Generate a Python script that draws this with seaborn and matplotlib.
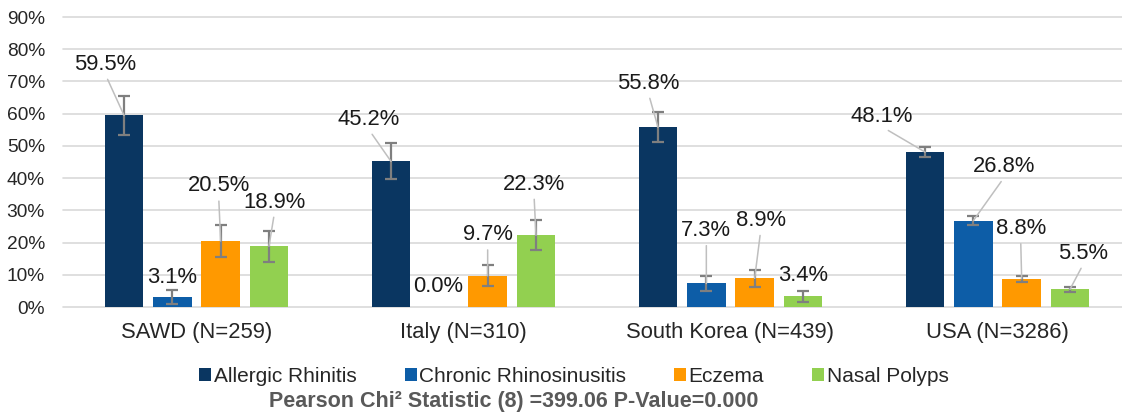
import matplotlib
matplotlib.use("Agg")
import matplotlib.pyplot as plt
import matplotlib.patches as mpatches
from matplotlib.container import BarContainer
from matplotlib.ticker import PercentFormatter, MultipleLocator
import pandas as pd
import seaborn as sns

# ---- data -------------------------------------------------------------
countries = ["SAWD (N=259)", "Italy (N=310)", "South Korea (N=439)", "USA (N=3286)"]
conditions = ["Allergic Rhinitis", "Chronic Rhinosinusitis", "Eczema", "Nasal Polyps"]

allergic_rhinitis = [59.5, 45.2, 55.8, 48.1]
chronic_rhinosinusitis = [3.1, 0.0, 7.3, 26.8]
eczema = [20.5, 9.7, 8.9, 8.8]
nasal_polyps = [18.9, 22.3, 3.4, 5.5]

# half-width of the 95% confidence interval (percentage points)
allergic_rhinitis_ci = [6.0, 5.6, 4.6, 1.7]
chronic_rhinosinusitis_ci = [2.1, 0.0, 2.4, 1.5]
eczema_ci = [4.9, 3.3, 2.7, 0.9]
nasal_polyps_ci = [4.8, 4.6, 1.7, 0.8]

footnote = "Pearson Chi\u00b2 Statistic (8) =399.06 P-Value=0.000"

# ---- styling ----------------------------------------------------------
palette = ["#0A3661", "#0D5DA7", "#FF9900", "#92D050"]

# label placement (offset in pixels from bar top, x right / y up) and leader flag
label_offsets = [
    [(-18.5, 51), (-22, 42), (-9.5, 44), (-43.5, 36)],
    [(0, 20), (-1, 21), (0, 53), (31, 54)],
    [(-2, 55), (0, 41), (6, 58), (-1, 50)],
    [(5.5, 44), (-2, 51), (0, 21), (13.5, 36)],
]
leader_lines = [
    [True, True, True, True],
    [False, False, True, True],
    [True, True, True, True],
    [True, True, False, True],
]

values = [allergic_rhinitis, chronic_rhinosinusitis, eczema, nasal_polyps]
cis = [allergic_rhinitis_ci, chronic_rhinosinusitis_ci, eczema_ci, nasal_polyps_ci]

rows = []
for cond, vals in zip(conditions, values):
    for country, v in zip(countries, vals):
        rows.append({"Country": country, "Condition": cond, "Prevalence": v})
df = pd.DataFrame(rows)

sns.set_style("white")
plt.rcParams["font.family"] = ["Liberation Sans", "DejaVu Sans"]

fig = plt.figure(figsize=(11.22, 4.2), dpi=100)
ax = fig.add_axes([63 / 1122, 113 / 420, 1068 / 1122, 290 / 420])

sns.barplot(
    data=df, x="Country", y="Prevalence", hue="Condition",
    order=countries, hue_order=conditions, palette=palette, saturation=1,
    width=0.724, gap=0.203, errorbar=None, linewidth=0,
    legend=False, ax=ax,
)

ax.set_xlim(-0.5, 3.5)
ax.set_ylim(0, 90)
ax.yaxis.set_major_locator(MultipleLocator(10))
ax.yaxis.set_major_formatter(PercentFormatter(100, decimals=0))
ax.set_xlabel("")
ax.set_ylabel("")
for s in ax.spines.values():
    s.set_visible(False)
ax.set_axisbelow(True)
ax.yaxis.grid(True, color="#D9D9D9", linewidth=1.2)
for gl in ax.get_ygridlines():
    gl.set_clip_on(False)
ax.tick_params(axis="y", length=0, pad=13, labelsize=13.8, labelcolor="#262626")
ax.tick_params(axis="x", length=0, pad=11, labelsize=15.8, labelcolor="#262626")

# error bars and value labels, one bar container per condition
bar_containers = [c for c in ax.containers if isinstance(c, BarContainer)]
for ci_idx, container in enumerate(bar_containers):
    for bar in container.patches:
        xc = bar.get_x() + bar.get_width() / 2
        v = bar.get_height()
        k = int(round(xc))
        err = cis[ci_idx][k]
        if err > 0:
            ax.errorbar(xc, v, yerr=err, fmt="none", ecolor="#7F7F7F",
                        elinewidth=1.6, capsize=4.2, capthick=1.6, zorder=4)
        dx, dy = label_offsets[ci_idx][k]
        arrow = None
        if leader_lines[ci_idx][k]:
            arrow = dict(arrowstyle="-", color="#BFBFBF", lw=1.1,
                         relpos=(0.5, 0.0), shrinkA=1, shrinkB=0)
        ax.annotate(f"{v:.1f}%", xy=(xc, v), xytext=(dx, dy),
                    textcoords="offset pixels", ha="center", va="center",
                    fontsize=15.8, color="#1A1A1A", arrowprops=arrow, zorder=5)

# legend
handles = [mpatches.Patch(facecolor=c, edgecolor="none", label=l)
           for c, l in zip(palette, conditions)]
fig.legend(handles=handles, loc="center", bbox_to_anchor=(574 / 1122, 1 - 376 / 420),
           ncol=4, frameon=False, fontsize=15, handlelength=0.58, handleheight=0.58,
           handletextpad=0.12, columnspacing=2.3, borderaxespad=0, borderpad=0,
           labelcolor="#262626")

fig.text(514 / 1122, 1 - 402 / 420, footnote, ha="center", va="center",
         fontsize=15.5, fontweight="bold", color="#595959")

fig.savefig("out.png", dpi=100)
